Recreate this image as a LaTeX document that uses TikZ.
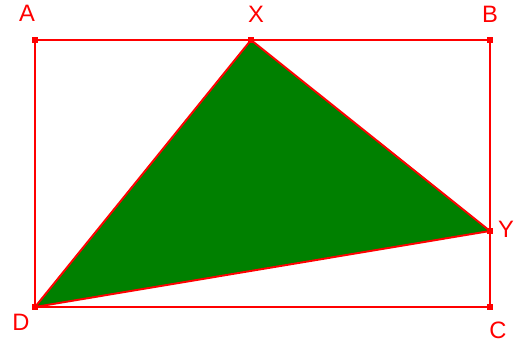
\documentclass[tikz,border=0pt]{standalone}
\usepackage{fontspec}
\setmainfont{Liberation Sans}
\usetikzlibrary{positioning}
\definecolor{edgered}{RGB}{255,0,0}
\definecolor{fillgreen}{RGB}{0,128,0}

\begin{document}
\begin{tikzpicture}[x=0.02cm, y=-0.02cm,
    edge/.style={draw=edgered, line width=1.1pt},
    ptlabel/.style={text=edgered, font=\fontsize{13.5}{15}\selectfont, inner sep=0pt},
    dot/.style={fill=edgered, minimum size=3.4pt, inner sep=0pt}]

    \useasboundingbox (0,0) rectangle (523,344);

    % corners of the rectangle and the two side points
    \coordinate (A) at (35,40);
    \coordinate (B) at (490,40);
    \coordinate (C) at (490,307);
    \coordinate (D) at (35,307);
    \coordinate (X) at (251,40);
    \coordinate (Y) at (490,231);

    % shaded triangle
    \fill[fillgreen] (D) -- (X) -- (Y) -- cycle;

    % rectangle and triangle edges
    \draw[edge] (A) -- (B) -- (C) -- (D) -- cycle;
    \draw[edge] (D) -- (X) -- (Y) -- cycle;

    % point markers
    \foreach \p in {A,B,C,D,X,Y}
        \node[dot] at (\p) {};

    % labels
    \node[ptlabel] (lA) at (27,13) {A};
    \node[ptlabel] (lX) at (256,14) {X};
    \node[ptlabel] (lB) at (490,14) {B};
    \node[ptlabel] (lY) at (506,229) {Y};
    \node[ptlabel] (lD) at (21,322) {D};
    \node[ptlabel] (lC) at (498,330) {C};

\end{tikzpicture}
\end{document}
